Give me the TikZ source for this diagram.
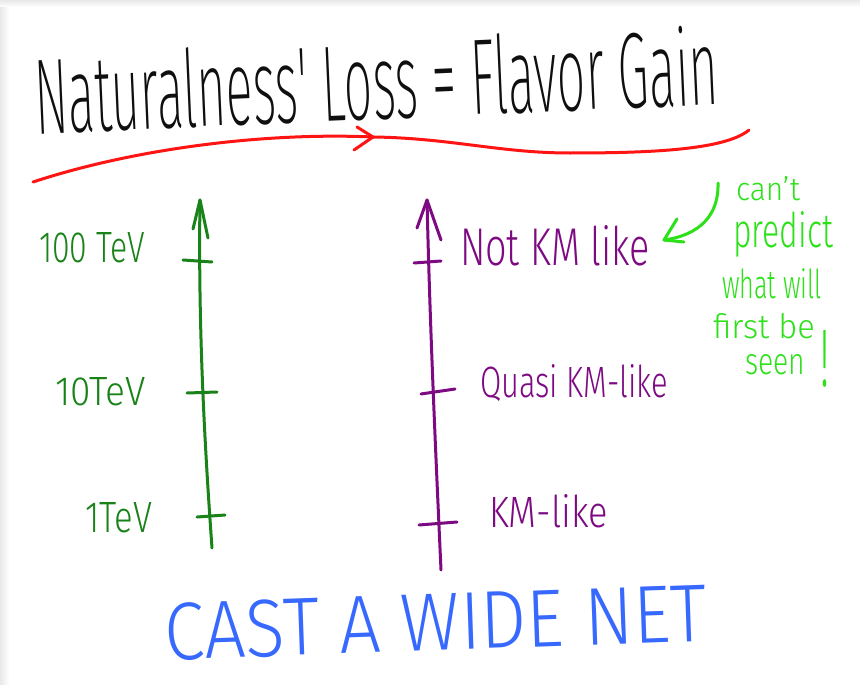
\documentclass[tikz,border=0pt]{standalone}
\usepackage{fontspec}
\usepackage{graphicx}
\IfFontExistsTF{Fira Sans Light}{\setmainfont{Fira Sans Light}}{\setmainfont{Liberation Sans}}
\IfFontExistsTF{Fira Sans ExtraLight}{\newfontfamily\titlefont{Fira Sans ExtraLight}}{\newfontfamily\titlefont{Liberation Sans}}
\newcommand\handtext[3]{\resizebox{#1}{#2}{#3}}
\definecolor{inkblack}{RGB}{15,15,15}
\definecolor{inkred}{RGB}{255,20,20}
\definecolor{inkgreen}{RGB}{25,130,25}
\definecolor{inkpurple}{RGB}{125,10,130}
\definecolor{inklime}{RGB}{45,225,25}
\definecolor{inkblue}{RGB}{55,105,255}
\begin{document}
\begin{tikzpicture}[x=1pt,y=-1pt,line cap=round,line join=round,
  pen/.style={line width=3pt},
  redpen/.style={pen,draw=inkred},
  greenpen/.style={pen,draw=inkgreen},
  purplepen/.style={pen,draw=inkpurple},
  limepen/.style={pen,draw=inklime},
  lbl/.style={anchor=base west,inner sep=0pt,outer sep=0pt}]
\useasboundingbox (0,0) rectangle (860,685);
\fill[white] (0,0) rectangle (860,685);
\shade[left color=black!9,right color=white] (0,0) rectangle (9,685);
\shade[top color=black!9,bottom color=white] (0,0) rectangle (860,7);

% title
\node[lbl,rotate=2.5,text=inkblack] (title) at (36,134)
  {\titlefont\handtext{684pt}{80pt}{Naturalness' Loss = Flavor Gain}};

% red underline with arrow
\coordinate (r0) at (33,182);
\coordinate (rtip) at (373,137);
\coordinate (r1) at (749,130);
\coordinate (rb1) at (357,127);
\coordinate (rb2) at (354,150);
\draw[redpen] (r0) .. controls (130,150) and (260,132) .. (rtip);
\draw[redpen] (rtip) .. controls (450,138) and (500,153) .. (570,153)
  .. controls (650,153) and (725,150) .. (r1);
\draw[redpen] (rb1) -- (rtip) -- (rb2);

% green energy axis
\coordinate (gbot) at (212,548);
\coordinate (gtop) at (200,200);
\coordinate (gb1) at (193,229);
\coordinate (gb2) at (208,238);
\draw[greenpen] (gbot) .. controls (205,450) and (198,330) .. (gtop);
\draw[greenpen] (gb1) -- (gtop) -- (gb2);
\coordinate (gt1a) at (183,260); \coordinate (gt1b) at (212,262);
\coordinate (gt2a) at (187,393); \coordinate (gt2b) at (217,392);
\coordinate (gt3a) at (197,517); \coordinate (gt3b) at (225,515);
\draw[greenpen] (gt1a) -- (gt1b);
\draw[greenpen] (gt2a) -- (gt2b);
\draw[greenpen] (gt3a) -- (gt3b);
\node[lbl,text=inkgreen] (l100) at (39,262) {\handtext{106pt}{30pt}{100 TeV}};
\node[lbl,text=inkgreen] (l10) at (55,405) {\handtext{91pt}{28pt}{10TeV}};
\node[lbl,text=inkgreen] (l1) at (85,532) {\handtext{67pt}{30pt}{1TeV}};

% purple flavour axis
\coordinate (pbot) at (441,570);
\coordinate (ptop) at (427,200);
\coordinate (pb1) at (417,228);
\coordinate (pb2) at (441,240);
\draw[purplepen] (pbot) .. controls (436,460) and (430,330) .. (ptop);
\draw[purplepen] (pb1) -- (ptop) -- (pb2);
\coordinate (pt1a) at (414,263); \coordinate (pt1b) at (441,261);
\coordinate (pt2a) at (421,394); \coordinate (pt2b) at (455,389);
\coordinate (pt3a) at (419,525); \coordinate (pt3b) at (457,522);
\draw[purplepen] (pt1a) -- (pt1b);
\draw[purplepen] (pt2a) -- (pt2b);
\draw[purplepen] (pt3a) -- (pt3b);
\node[lbl,text=inkpurple] (notkm) at (460,265) {\handtext{190pt}{40pt}{Not KM like}};
\node[lbl,text=inkpurple] (quasi) at (480,397) {\handtext{188pt}{33pt}{Quasi KM-like}};
\node[lbl,text=inkpurple] (kmlike) at (489,527) {\handtext{119pt}{33pt}{KM-like}};

% lime comment
\node[lbl,text=inklime] (c1) at (736,200) {\handtext{64pt}{24pt}{can't}};
\node[lbl,text=inklime] (c2) at (733,247) {\handtext{100pt}{36pt}{predict}};
\node[lbl,text=inklime] (c3) at (722,298) {\handtext{100pt}{30pt}{what will}};
\node[lbl,text=inklime] (c4) at (713,338) {\handtext{102pt}{25pt}{first be}};
\node[lbl,text=inklime] (c5) at (745,374) {\handtext{60pt}{20pt}{seen}};
\node[lbl,text=inklime] (c6) at (820,386) {\handtext{9pt}{56pt}{!}};
\coordinate (ga0) at (718,183);
\coordinate (gatip) at (664,240);
\coordinate (gab1) at (677,219);
\coordinate (gab2) at (684,242);
\draw[limepen] (ga0) .. controls (719,215) and (700,235) .. (gatip);
\draw[limepen] (gab1) -- (gatip) -- (gab2);

% motto
\node[lbl,rotate=2,text=inkblue] (motto) at (165,660)
  {\handtext{543pt}{57pt}{CAST A WIDE NET}};
\end{tikzpicture}
\end{document}
